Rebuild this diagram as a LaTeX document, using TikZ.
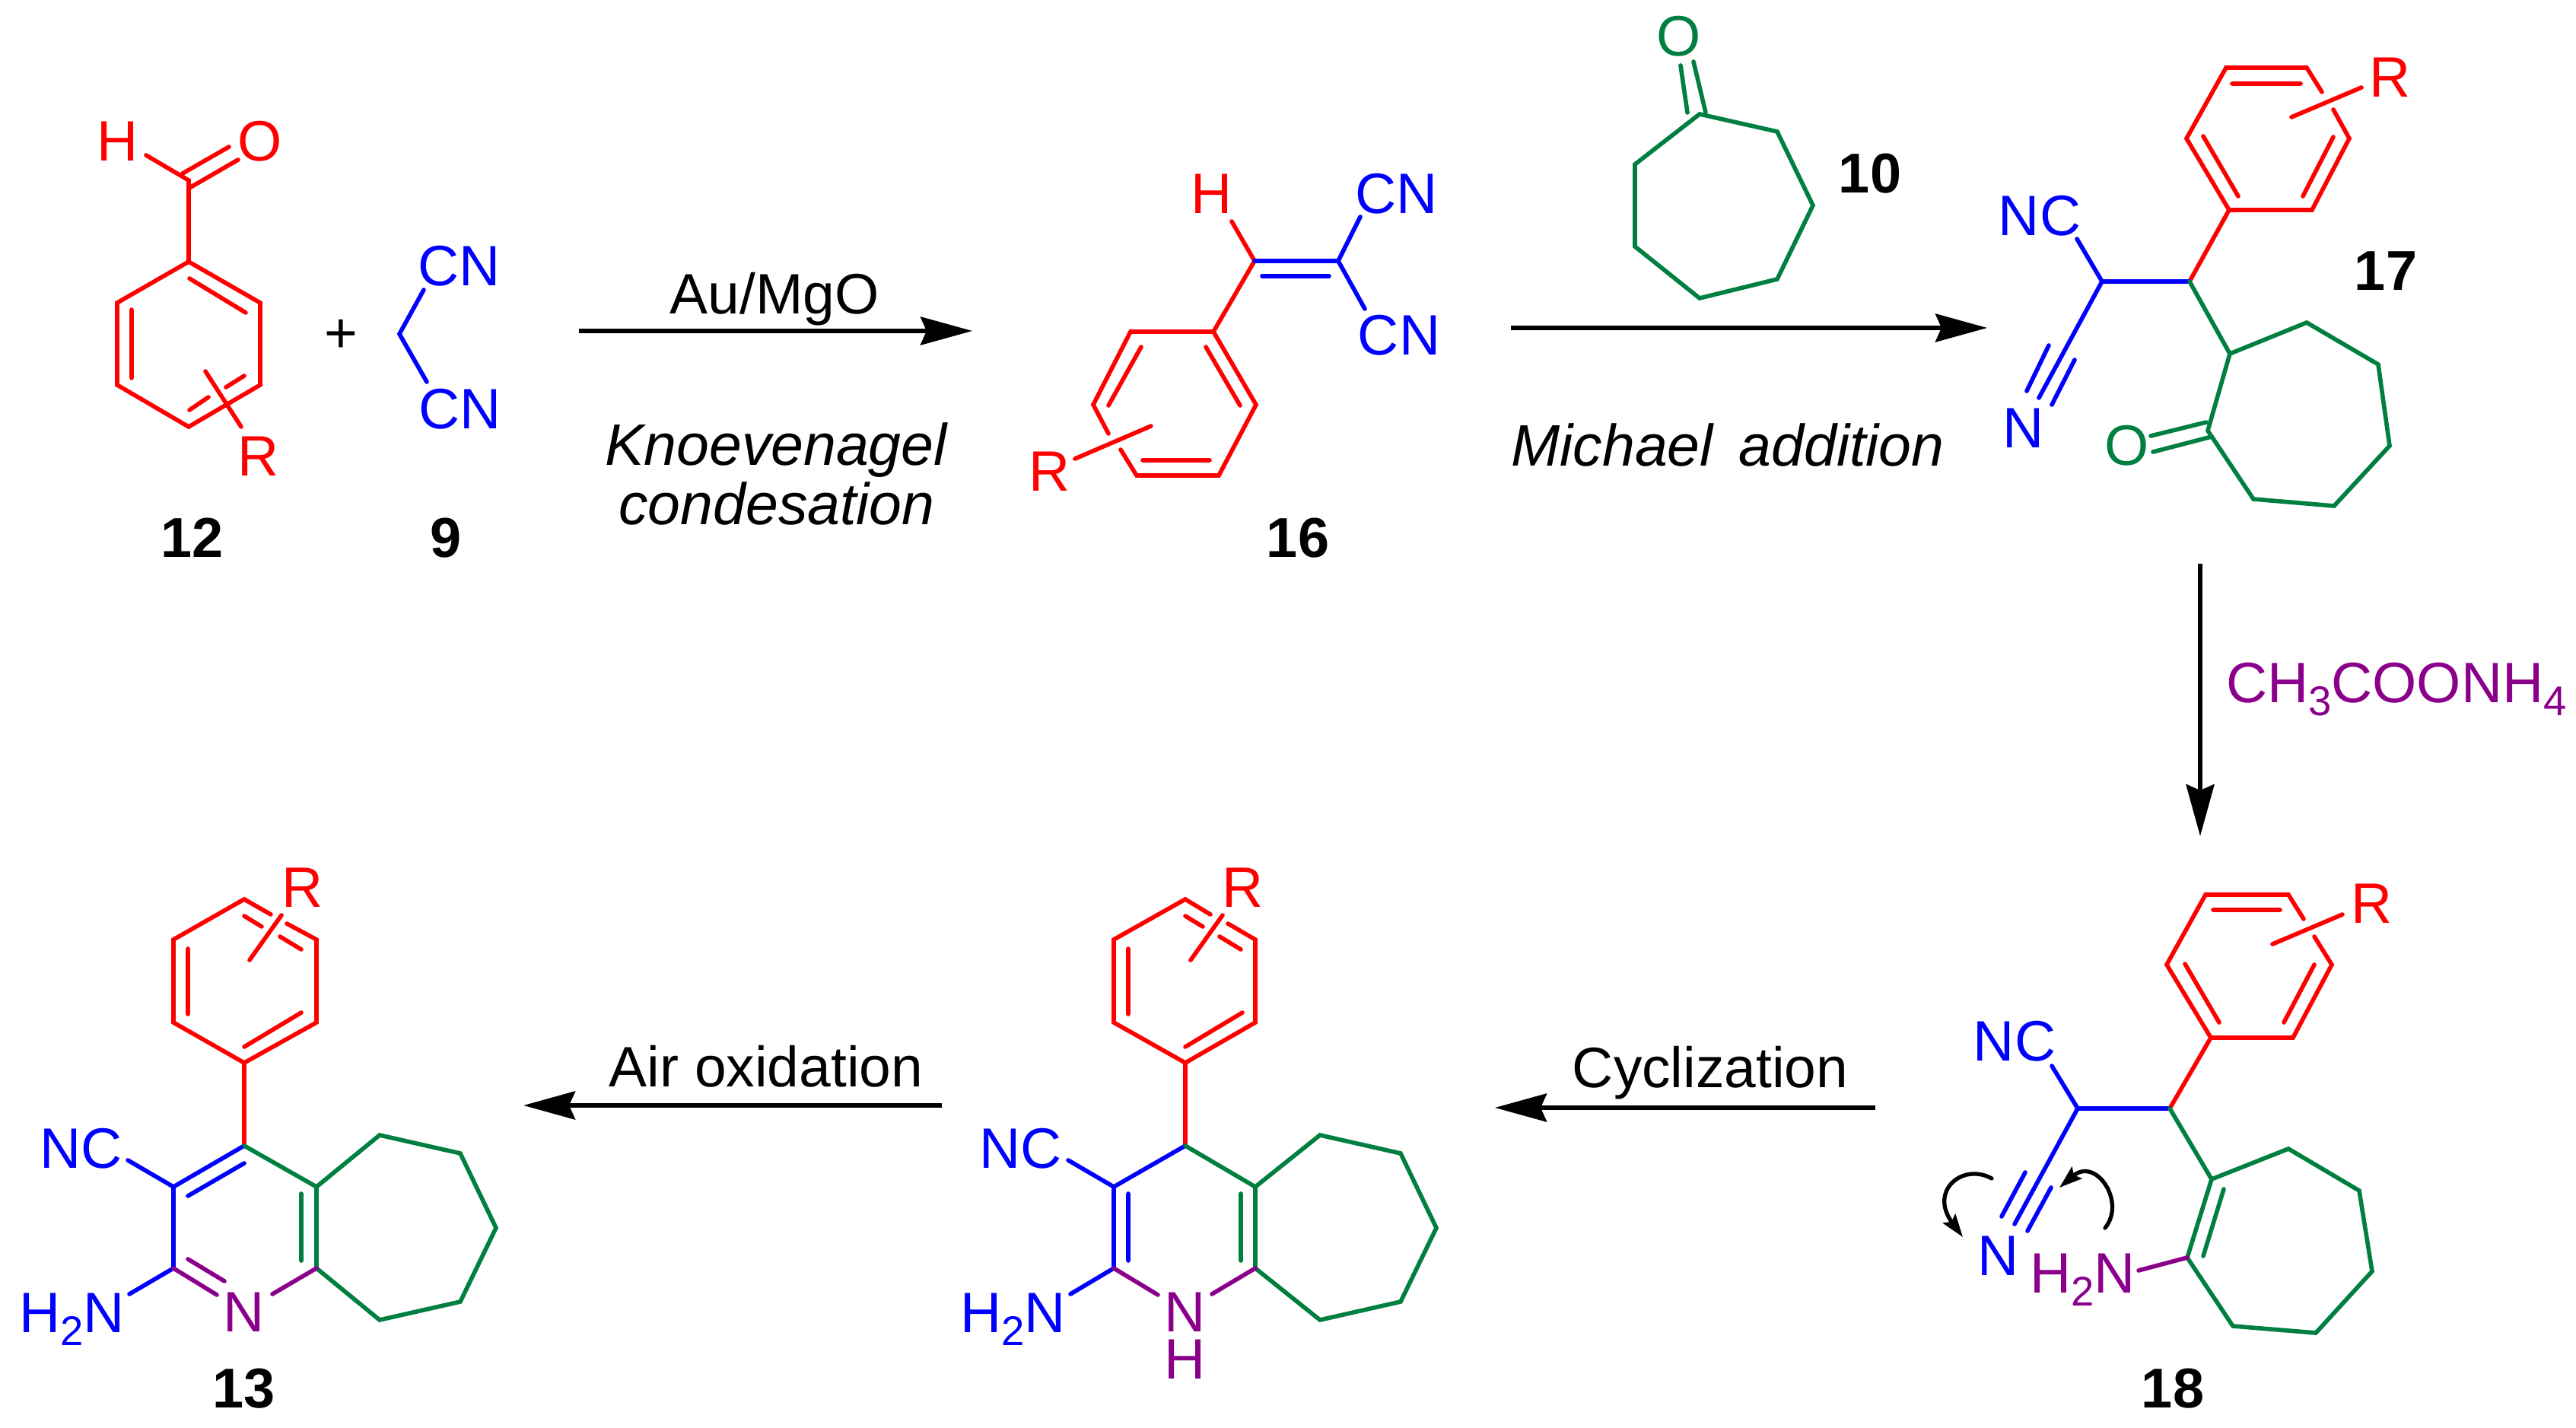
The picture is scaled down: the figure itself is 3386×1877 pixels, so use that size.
\documentclass[tikz,border=0pt]{standalone}
\usepackage{fontspec}
\setmainfont{Liberation Sans}
\usetikzlibrary{arrows.meta}
\definecolor{cred}{HTML}{FF0000}
\definecolor{cblue}{HTML}{0000FF}
\definecolor{cgreen}{HTML}{007F40}
\definecolor{cpurple}{HTML}{8B008B}
\newcommand{\subtwo}[1]{\raisebox{-4.8pt}{\fontsize{15.5}{17}\selectfont #1}}
\tikzset{
  every node/.style={inner sep=0pt,outer sep=0pt,font=\fontsize{21.3}{24}\selectfont},
  bond/.style={line width=1.6pt,line cap=round,line join=miter},
  rb/.style={bond,draw=cred},
  bb/.style={bond,draw=cblue},
  gb/.style={bond,draw=cgreen},
  pb/.style={bond,draw=cpurple},
  rt/.style={text=cred},
  bt/.style={text=cblue},
  gt/.style={text=cgreen},
  pt/.style={text=cpurple},
  num/.style={font=\fontsize{21}{24}\selectfont\bfseries},
  ital/.style={anchor=base,font=\fontsize{21.9}{24}\selectfont\itshape},
  rxn/.style={line width=1.5pt,-{Stealth[length=68*0.2845pt,width=37*0.2845pt,inset=8*0.2845pt]}},
  curl/.style={line width=1.5pt,line cap=round,-{Stealth[length=30*0.2845pt,width=20*0.2845pt,inset=5*0.2845pt]}},
}
\begin{document}
\begin{tikzpicture}[x=0.01cm,y=-0.01cm]
\useasboundingbox (0,0) rectangle (3386,1877);
% ---------- 12
\node[rt] (h12) at (155,186) {H};
\node[rt] (o12) at (342,186) {O};
\node[rt] (r12) at (340,600) {R};
\draw[rb] (192,204) -- (248,237) -- (248,344);
\draw[rb] (248,344) -- (342,398) -- (342,506) -- (248,561) -- (154,506) -- (154,398) -- cycle;
\draw[rb] (240,228) -- (301,193) (249,247) -- (313,210);
\draw[rb] (249,366) -- (323,411) (173,407) -- (173,497) (321,494) -- (297,509) (274,522) -- (249,539);
\draw[rb] (270,488) -- (317,561);
\node[num] (n12) at (253,707) {12};
\node (plus) at (448,442) {+};
\node[bt] (cn9a) at (604,350) {CN};
\node[bt] (cn9b) at (605,538) {CN};
\draw[bb] (557,381) -- (525,439) -- (561,502);
\node[num] (n9) at (586,707) {9};
% arrow 1
\coordinate (a1s) at (761,435); \coordinate (a1e) at (1278,435);
\draw[rxn] (a1s) -- (a1e);
\node[anchor=base] (t1) at (1018,413) {Au/MgO};
\node[ital] (t2) at (1020,612) {Knoevenagel};
\node[ital] (t3) at (1021,690) {condesation};
% ---------- 16
\node[rt] (h16) at (1593,255) {H};
\node[bt] (cn16a) at (1836,255) {CN};
\node[bt] (cn16b) at (1839,441) {CN};
\node[rt] (r16) at (1380,620) {R};
\draw[rb] (1619,291) -- (1649,343) -- (1595,436);
\draw[bb] (1649,343) -- (1759,343) (1659,363) -- (1747,363);
\draw[bb] (1788,285) -- (1759,343) -- (1794,406);
\draw[rb] (1457,570) -- (1437,532) -- (1486,436) -- (1595,436) -- (1651,532) -- (1602,625) -- (1494,625) -- (1473,591);
\draw[rb] (1500,456) -- (1457,533) (1585,456) -- (1630,533) (1502,605) -- (1590,605);
\draw[rb] (1513,560) -- (1413,603);
\node[num] (n16) at (1706,707) {16};
% arrow 2
\coordinate (a2s) at (1986,431); \coordinate (a2e) at (2612,431);
\draw[rxn] (a2s) -- (a2e);
\node[ital] (t4) at (2271,613) {Michael\hspace{3.5pt} addition};
% ---------- 10
\node[gt] (o10) at (2207,48) {O};
\draw[gb] (2209,86) -- (2218,148) (2226,81) -- (2242,148);
\draw[gb] (2234,150) -- (2336,173) -- (2383,270) -- (2336,367) -- (2234,392) -- (2149,324) -- (2149,216) -- cycle;
\node[num] (n10) at (2458,228) {10};
% ---------- 17
\node[rt] (r17) at (3142,102) {R};
\node[bt] (nc17) at (2681,284) {NC};
\node[bt] (n17) at (2660,563) {N};
\node[gt] (o17) at (2796,586) {O};
\draw[rb] (3052,121) -- (3032,89) -- (2926,89) -- (2874,182) -- (2930,276) -- (3039,276) -- (3088,182) -- (3067,144);
\draw[rb] (2934,110) -- (3024,110) (2896,179) -- (2942,258) (3067,180) -- (3027,258);
\draw[rb] (3012,154) -- (3104,115);
\draw[rb] (2878,370) -- (2930,276);
\draw[bb] (2730,314) -- (2763,370) -- (2878,370);
\draw[bb] (2763,370) -- (2680,523) (2693,454) -- (2664,514) (2727,473) -- (2697,532);
\draw[gb] (2878,370) -- (2931,465);
\draw[gb] (2931,465) -- (3032,424) -- (3126,479) -- (3141,586) -- (3068,665) -- (2962,656) -- (2902,566) -- cycle;
\draw[gb] (2900,555) -- (2827,573) (2907,574) -- (2830,594);
\node[num] (n17l) at (3136,356) {17};
% arrow 3
\coordinate (a3s) at (2892,741); \coordinate (a3e) at (2892,1099);
\draw[rxn] (a3s) -- (a3e);
\node[anchor=base west,pt] (t5) at (2926,924) {CH\subtwo{3}COONH\subtwo{4}};
% ---------- 18
\node[rt] (r18) at (3118,1188) {R};
\node[bt] (nc18) at (2648,1369) {NC};
\node[bt] (n18) at (2627,1651) {N};
\node[anchor=base west,pt] (h2n18) at (2668,1700) {H\subtwo{2}N};
\draw[rb] (3028,1208) -- (3008,1176) -- (2899,1176) -- (2848,1268) -- (2906,1364) -- (3014,1364) -- (3065,1268) -- (3042,1231);
\draw[rb] (2909,1196) -- (2997,1196) (2872,1267) -- (2917,1344) (3042,1268) -- (3002,1344);
\draw[rb] (2987,1241) -- (3079,1202);
\draw[rb] (2852,1457) -- (2906,1364);
\draw[bb] (2697,1401) -- (2731,1457) -- (2852,1457);
\draw[bb] (2731,1457) -- (2648,1609) (2662,1541) -- (2631,1599) (2696,1561) -- (2665,1618);
\draw[gb] (2852,1457) -- (2907,1550);
\draw[gb] (2907,1550) -- (3008,1510) -- (3101,1565) -- (3118,1671) -- (3044,1752) -- (2935,1743) -- (2875,1653) -- cycle;
\draw[gb] (2923,1563) -- (2896,1651);
\draw[pb] (2811,1670) -- (2875,1653);
\node[num] (n18l) at (2856,1825) {18};
\coordinate (c1s) at (2618,1549); \coordinate (c1e) at (2580,1626);
\coordinate (c2s) at (2767,1614); \coordinate (c2e) at (2707,1561);
\draw[curl] (c1s) .. controls (2580,1528) and (2535,1565) .. (c1e);
\draw[curl] (c2s) .. controls (2795,1580) and (2755,1520) .. (c2e);
% arrow 4
\coordinate (a4s) at (2465,1456); \coordinate (a4e) at (1965,1456);
\draw[rxn] (a4s) -- (a4e);
\node[anchor=base] (t6) at (2248,1430) {Cyclization};
% ---------- dihydro (unnumbered)
\node[rt] (rm) at (1634,1167) {R};
\node[bt] (ncm) at (1342,1510) {NC};
\node[anchor=base west,bt] (h2nm) at (1262,1752) {H\subtwo{2}N};
\node[text=cpurple] (nm) at (1558,1725) {N};
\node[text=cpurple] (hm) at (1558,1787) {H};
\draw[rb] (1591,1202) -- (1558,1182) -- (1464,1235) -- (1464,1344) -- (1558,1397) -- (1650,1344) -- (1650,1235) -- (1614,1214);
\draw[rb] (1483,1247) -- (1483,1333) (1633,1331) -- (1558,1376) (1558,1204) -- (1581,1218) (1603,1231) -- (1631,1248);
\draw[rb] (1607,1203) -- (1565,1262);
\draw[rb] (1558,1397) -- (1558,1506);
\draw[bb] (1404,1525) -- (1464,1560) -- (1558,1506) (1464,1560) -- (1464,1667) -- (1407,1701) (1483,1569) -- (1483,1657);
\draw[gb] (1558,1506) -- (1650,1560);
\draw[gb] (1650,1560) -- (1735,1492) -- (1841,1516) -- (1888,1614) -- (1841,1711) -- (1735,1735) -- (1650,1667) -- cycle;
\draw[gb] (1631,1569) -- (1631,1657);
\draw[pb] (1464,1667) -- (1522,1702) (1650,1667) -- (1593,1701);
% arrow 5
\coordinate (a5s) at (1238,1453); \coordinate (a5e) at (688,1453);
\draw[rxn] (a5s) -- (a5e);
\node[anchor=base] (t7) at (1007,1429) {Air oxidation};
% ---------- 13
\node[rt] (r13) at (398,1167) {R};
\node[bt] (nc13) at (107,1510) {NC};
\node[anchor=base west,bt] (h2n13) at (25,1752) {H\subtwo{2}N};
\node[text=cpurple] (n13) at (321,1725) {N};
\draw[rb] (356,1202) -- (321,1182) -- (228,1235) -- (228,1344) -- (321,1397) -- (416,1344) -- (416,1235) -- (377,1214);
\draw[rb] (247,1247) -- (247,1333) (396,1331) -- (321,1376) (321,1204) -- (344,1218) (368,1231) -- (396,1248);
\draw[rb] (370,1203) -- (328,1262);
\draw[rb] (321,1397) -- (321,1506);
\draw[bb] (168,1525) -- (228,1560) -- (321,1506) (321,1529) -- (247,1572) (228,1560) -- (228,1667) -- (170,1701);
\draw[gb] (321,1506) -- (416,1560);
\draw[gb] (416,1560) -- (499,1492) -- (605,1516) -- (652,1614) -- (605,1711) -- (499,1735) -- (416,1667) -- cycle;
\draw[gb] (396,1569) -- (396,1657);
\draw[pb] (228,1667) -- (285,1702) (358,1701) -- (416,1667) (247,1655) -- (295,1684);
\node[num] (n13l) at (321,1825) {13};
\end{tikzpicture}
\end{document}
